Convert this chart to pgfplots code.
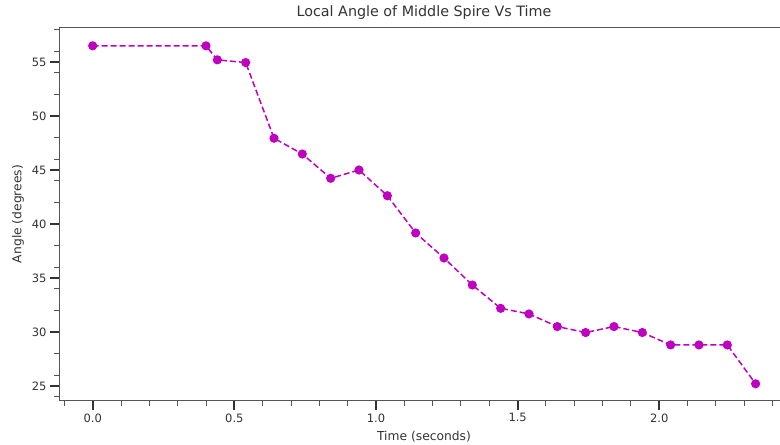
\documentclass[border=0pt]{standalone}
\usepackage{fontspec}
\setmainfont{DejaVu Sans}
\usepackage{pgfplots}
\pgfplotsset{compat=1.18}
\definecolor{mag}{HTML}{BF00BF}
\definecolor{txt}{HTML}{333333}
\definecolor{spine}{HTML}{555555}
\begin{document}
\begin{tikzpicture}
\begin{axis}[
  scale only axis, width=728bp, height=372bp,
  at={(0,0)}, anchor=south west,
  xmin=-0.1154, xmax=2.4543, ymin=23.70, ymax=58.15,
  axis line style={spine, line width=1bp},
  tick pos=left, tick align=outside,
  xtick={0,0.5,1,1.5,2},
  minor xtick={-0.1,0.1,0.2,0.3,0.4,0.6,0.7,0.8,0.9,1.1,1.2,1.3,1.4,1.6,1.7,1.8,1.9,2.1,2.2,2.3,2.4},
  ytick={25,30,35,40,45,50,55},
  minor ytick={24,26,28,32,34,36,38,42,44,46,48,52,54,56,58},
  major tick length=10bp, minor tick length=6bp,
  every major tick/.style={line width=1.8bp, txt},
  every minor tick/.style={line width=1bp, spine},
  xticklabel style={/pgf/number format/fixed, /pgf/number format/fixed zerofill, /pgf/number format/precision=1},
  /pgf/number format/assume math mode=true,
  tick label style={font=\fontsize{11.5bp}{13bp}\selectfont, text=txt},
  xlabel={Time (seconds)}, ylabel={Angle (degrees)},
  label style={font=\fontsize{12.3bp}{14bp}\selectfont, text=txt},
  xlabel style={at={(axis description cs:0.5,0)}, anchor=base, yshift=-40bp},
  ylabel style={at={(axis description cs:0,0.5)}, anchor=center, yshift=42bp},
  title={Local Angle of Middle Spire Vs Time},
  title style={font=\fontsize{14.3bp}{16bp}\selectfont, text=txt, at={(axis description cs:0.5,1)}, anchor=base, yshift=6bp},
]
\addplot[mag, dash pattern=on 6bp off 3bp, line width=1.5bp, mark=*, mark size=3.8bp, mark options={solid, fill=mag, draw=mag}] coordinates {
(0,56.5) (0.4,56.5) (0.44,55.2) (0.54,54.95) (0.64,47.94) (0.74,46.48)
(0.84,44.23) (0.94,45.0) (1.04,42.62) (1.14,39.17) (1.24,36.85) (1.34,34.35)
(1.44,32.19) (1.54,31.67) (1.64,30.5) (1.74,29.95) (1.84,30.5) (1.94,29.95)
(2.04,28.8) (2.14,28.8) (2.24,28.8) (2.34,25.2)
};
\end{axis}
\pgfresetboundingbox
\useasboundingbox (-60bp,-45bp) rectangle (720bp,400bp);
\end{tikzpicture}
\end{document}
